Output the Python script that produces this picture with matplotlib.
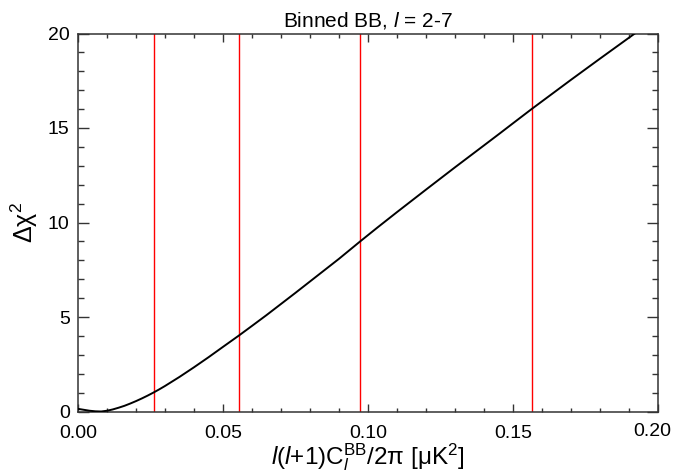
import matplotlib
matplotlib.use("Agg")
import matplotlib.pyplot as plt
from matplotlib.ticker import MultipleLocator

plt.rcParams['font.family'] = ['Liberation Sans', 'DejaVu Sans']
plt.rcParams['mathtext.fontset'] = 'custom'
plt.rcParams['mathtext.rm'] = 'Liberation Sans'
plt.rcParams['mathtext.it'] = 'Liberation Sans:italic'

# curve: band power vs delta chi^2
power = [0.000, 0.002, 0.004, 0.006, 0.008, 0.010, 0.012, 0.014, 0.016,
         0.018, 0.020, 0.022, 0.024, 0.026, 0.028, 0.030, 0.035, 0.040,
         0.045, 0.050, 0.0554, 0.060, 0.065, 0.070, 0.075, 0.080, 0.085,
         0.090, 0.0973, 0.1033, 0.110, 0.120, 0.130, 0.140, 0.1455, 0.150,
         0.1564, 0.165, 0.170, 0.180, 0.192]
dchi2 = [0.14, 0.09, 0.04, 0.01, 0.0, 0.04, 0.11, 0.2, 0.3,
         0.42, 0.55, 0.69, 0.84, 1.0, 1.17, 1.35, 1.83, 2.34,
         2.87, 3.42, 4.01, 4.53, 5.1, 5.69, 6.28, 6.88, 7.48,
         8.08, 9.0, 9.74, 10.55, 11.74, 12.92, 14.08, 14.72, 15.25,
         16.0, 16.98, 17.55, 18.67, 20.0]

# 1,2,3,4 sigma limits (red lines)
limits = [0.0261, 0.0554, 0.0973, 0.1564]

fig = plt.figure(figsize=(6.73, 4.75), dpi=100)
ax = fig.add_axes([78 / 673, 1 - 411.5 / 475, 580 / 673, 378 / 475])

ax.plot(power, dchi2, color='k', lw=1.4, zorder=3)
for xv in limits:
    ax.axvline(xv, color='red', lw=1.0, zorder=2)

ax.set_xlim(0, 0.2)
ax.set_ylim(0, 20)
ax.xaxis.set_major_locator(MultipleLocator(0.05))
ax.xaxis.set_minor_locator(MultipleLocator(0.01))
ax.yaxis.set_major_locator(MultipleLocator(5))
ax.yaxis.set_minor_locator(MultipleLocator(1))
# the 0.20 label is drawn separately below so it stays inside the picture
ax.xaxis.set_major_formatter(
    plt.FuncFormatter(lambda v, p: "" if v > 0.19 else "%.2f" % v))

ax.tick_params(which='both', direction='in', top=True, right=True,
               labelsize=14, width=1.0, color='#333333')
ax.tick_params(axis='x', which='major', length=5.5, pad=10)
ax.tick_params(axis='x', which='minor', length=2.8)
ax.tick_params(axis='y', which='major', length=8, pad=6)
ax.tick_params(axis='y', which='minor', length=4)
for s in ax.spines.values():
    s.set_linewidth(1.1)
    s.set_color('#333333')

fig.text(671 / 673, 1 - 423 / 475, "0.20", ha='right', va='top', fontsize=14)

ax.set_title(r"Binned BB, $\mathit{l}$ = 2-7", fontsize=15, pad=5)
ax.set_xlabel(r"$\mathit{l}$($\mathit{l}$+1)C$_{\mathit{l}}^{\rm BB}$/2π [μK$^{2}$]",
              fontsize=17.5, labelpad=-1)
ax.set_ylabel(r"Δχ$^{2}$", fontsize=18, labelpad=6)

fig.savefig("out.png", dpi=100)
